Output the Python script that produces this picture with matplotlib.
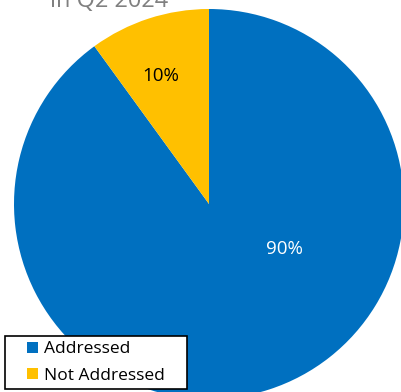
import matplotlib
matplotlib.use("Agg")
import matplotlib.pyplot as plt
from matplotlib.patches import Rectangle
from matplotlib.legend_handler import HandlerPatch

labels = ["Addressed", "Not Addressed"]
values = [90, 10]
colors = ["#0070C0", "#FFC000"]
pct_colors = ["white", "black"]

plt.rcParams["font.family"] = ["Open Sans", "DejaVu Sans"]

W, H = 401, 392
fig = plt.figure(figsize=(W / 100, H / 100), dpi=100)

cx, cy, r = 209, 204, 195
ax = fig.add_axes([(cx - r) / W, (H - cy - r) / H, 2 * r / W, 2 * r / H])
wedges, texts, autotexts = ax.pie(
    values, colors=colors, startangle=90, counterclock=False,
    autopct="%d%%", radius=1, textprops={"fontsize": 13.5},
)
ax.set_xlim(-1, 1)
ax.set_ylim(-1, 1)
ax.set_aspect("equal")
ax.axis("off")

# Excel-like label placement
label_pos = [(0.385, -0.23), (-0.245, 0.655)]
for t, c, p in zip(autotexts, pct_colors, label_pos):
    t.set_color(c)
    t.set_position(p)

fig.text(50 / W, 1 - 13 / H, "in Q2 2024", fontsize=17, color="#808080",
         ha="left", va="bottom")


def square_patch(legend, orig_handle, xdescent, ydescent, width, height, fontsize):
    side = 0.62 * fontsize
    return Rectangle((width - side - xdescent, -ydescent + (height - side) / 2),
                     side, side)


leg = fig.legend(wedges, labels, loc="lower left",
                 bbox_to_anchor=(5 / W, 3 / H, 182 / W, 56 / H), mode="expand",
                 frameon=True, fancybox=False, framealpha=1,
                 fontsize=12.5, handlelength=1.6, handleheight=0.7,
                 handletextpad=0.35, borderpad=0.3, labelspacing=0.6,
                 borderaxespad=0,
                 handler_map={w: HandlerPatch(patch_func=square_patch) for w in wedges})
leg.get_frame().set_edgecolor("black")
leg.get_frame().set_linewidth(1.2)

fig.savefig("out.png", dpi=100)
